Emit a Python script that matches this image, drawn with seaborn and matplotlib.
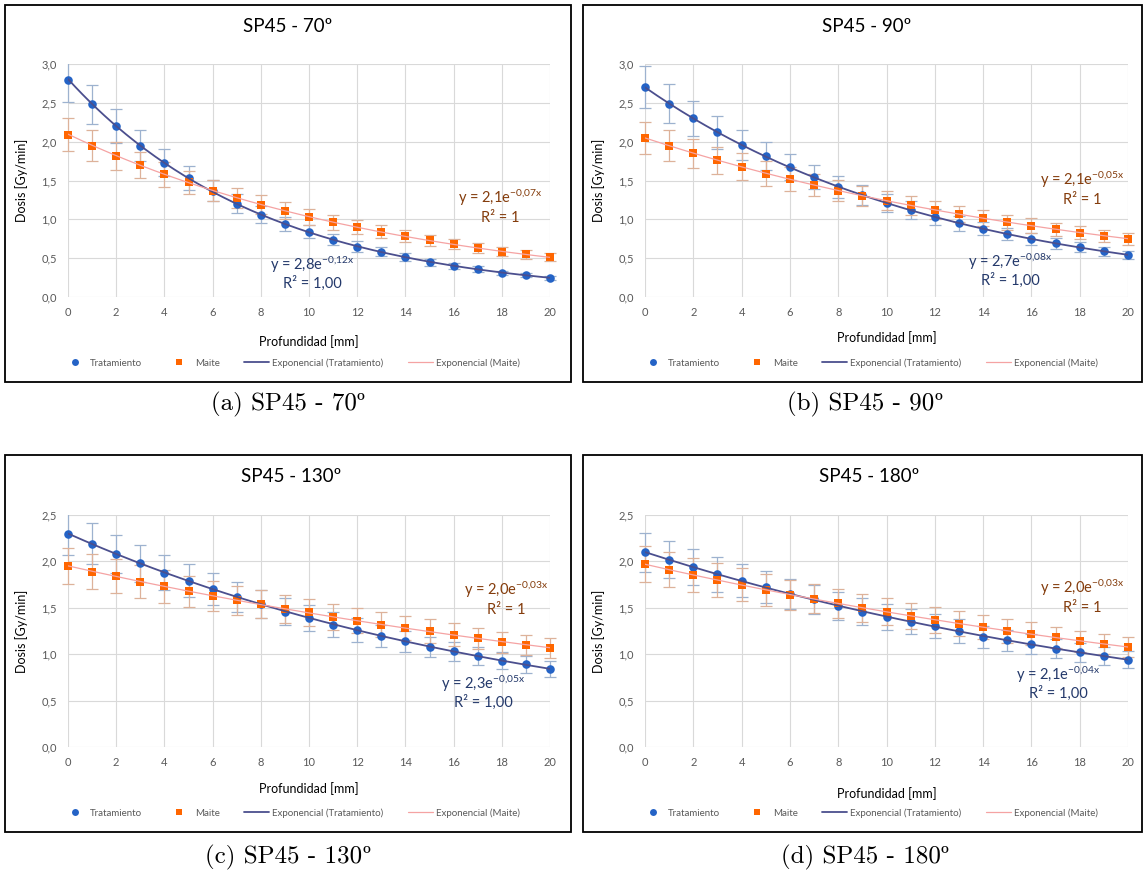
import numpy as np
import matplotlib
matplotlib.use("Agg")
import matplotlib.pyplot as plt
import seaborn as sns
from matplotlib.lines import Line2D
from matplotlib.patches import Rectangle
from matplotlib.text import Annotation
from matplotlib.ticker import FuncFormatter, MultipleLocator

# ---------------- data ----------------
depth_mm = list(range(21))

trat_70 = [2.79, 2.48, 2.20, 1.95, 1.73, 1.53, 1.37, 1.20, 1.06, 0.94, 0.84, 0.74, 0.65,
           0.58, 0.51, 0.45, 0.40, 0.36, 0.31, 0.28, 0.25]
maite_70 = [2.09, 1.95, 1.82, 1.70, 1.58, 1.48, 1.37, 1.28, 1.19, 1.11, 1.03, 0.96, 0.90,
            0.84, 0.78, 0.73, 0.68, 0.63, 0.58, 0.55, 0.51]

trat_90 = [2.70, 2.49, 2.30, 2.12, 1.96, 1.81, 1.67, 1.54, 1.42, 1.31, 1.21, 1.12, 1.03,
           0.95, 0.88, 0.81, 0.75, 0.69, 0.64, 0.59, 0.54]
maite_90 = [2.05, 1.95, 1.85, 1.76, 1.68, 1.59, 1.52, 1.44, 1.37, 1.30, 1.24, 1.18, 1.12,
            1.07, 1.02, 0.96, 0.92, 0.87, 0.83, 0.79, 0.75]

trat_130 = [2.30, 2.19, 2.08, 1.98, 1.88, 1.79, 1.70, 1.62, 1.54, 1.46, 1.39, 1.32, 1.26,
            1.20, 1.14, 1.08, 1.03, 0.98, 0.93, 0.89, 0.84]
maite_130 = [1.95, 1.89, 1.84, 1.78, 1.73, 1.68, 1.63, 1.58, 1.54, 1.49, 1.45, 1.40, 1.36,
             1.32, 1.28, 1.25, 1.21, 1.17, 1.13, 1.10, 1.07]

trat_180 = [2.10, 2.02, 1.94, 1.86, 1.79, 1.72, 1.65, 1.59, 1.52, 1.46, 1.40, 1.35, 1.30,
            1.25, 1.19, 1.15, 1.11, 1.06, 1.02, 0.98, 0.94]
maite_180 = [1.97, 1.91, 1.85, 1.80, 1.75, 1.69, 1.64, 1.60, 1.55, 1.50, 1.46, 1.41, 1.37,
             1.33, 1.29, 1.25, 1.22, 1.18, 1.14, 1.11, 1.08]

error_fraction = 0.10   # percentage error bars (10 %)

titles = ["SP45 - 70º", "SP45 - 90º", "SP45 - 130º", "SP45 - 180º"]
captions = ["(a) SP45 - 70º", "(b) SP45 - 90º", "(c) SP45 - 130º", "(d) SP45 - 180º"]
y_max = [3.0, 3.0, 2.5, 2.5]
eq_trat = [r"y = 2,8e$^{\mathrm{-0{,}12x}}$", r"y = 2,7e$^{\mathrm{-0{,}08x}}$",
           r"y = 2,3e$^{\mathrm{-0{,}05x}}$", r"y = 2,1e$^{\mathrm{-0{,}04x}}$"]
r2_trat = ["R² = 1,00"] * 4
eq_maite = [r"y = 2,1e$^{\mathrm{-0{,}07x}}$", r"y = 2,1e$^{\mathrm{-0{,}05x}}$",
            r"y = 2,0e$^{\mathrm{-0{,}03x}}$", r"y = 2,0e$^{\mathrm{-0{,}03x}}$"]
r2_maite = ["R² = 1"] * 4
legend_labels = ["Tratamiento", "Maite", "Exponencial (Tratamiento)", "Exponencial (Maite)"]
x_label = "Profundidad [mm]"
y_label = "Dosis [Gy/min]"

trat_series = [trat_70, trat_90, trat_130, trat_180]
maite_series = [maite_70, maite_90, maite_130, maite_180]

# ---------------- style ----------------
sns.set_style("white")
FONT = "Lato"
plt.rcParams["font.family"] = [FONT, "DejaVu Sans"]
plt.rcParams["mathtext.fontset"] = "custom"
plt.rcParams["mathtext.rm"] = FONT
plt.rcParams["mathtext.it"] = FONT + ":italic"
plt.rcParams["mathtext.bf"] = FONT + ":bold"

C_TRAT = "#2463C6"
C_MAITE = "#FF6600"
C_TRAT_LINE = "#4B4F8E"
C_MAITE_LINE = "#F5A3A3"
C_TRAT_ERR = "#9DB2CF"
C_MAITE_ERR = "#DDB29A"
C_EQ_TRAT = "#24396B"
C_EQ_MAITE = "#843C0C"
C_GRID = "#D9D9D9"
C_TICK = "#595959"

W, H = 1144, 875
fig = plt.figure(figsize=(W / 100, H / 100), dpi=100)


def fx(px):
    return px / W


def fy(py):
    return 1 - py / H


# layout per panel (pixels)
layout = [
    dict(box=(5, 5, 571, 382), ax=(68, 64, 550, 297), title=(288, 27), cap=(290, 404),
         xlab=342, ylab=22, leg=(291, 363), eqM=(500, 198), eqT=(312, 265)),
    dict(box=(583, 5, 1142, 382), ax=(645, 64, 1128, 297), title=(867, 27), cap=(867, 404),
         xlab=338, ylab=599, leg=(869, 363), eqM=(1082, 180), eqT=(1010, 262)),
    dict(box=(5, 455, 571, 832), ax=(68, 515, 550, 747), title=(291, 477), cap=(290, 857),
         xlab=789, ylab=22, leg=(291, 813), eqM=(506, 590), eqT=(483, 684)),
    dict(box=(583, 455, 1142, 832), ax=(645, 515, 1128, 747), title=(869, 477), cap=(867, 857),
         xlab=794, ylab=599, leg=(869, 813), eqM=(1082, 588), eqT=(1058, 675)),
]

x = np.array(depth_mm, dtype=float)
x_fine = np.linspace(x.min(), x.max(), 200)

for i, L in enumerate(layout):
    bx0, by0, bx1, by1 = L["box"]
    fig.add_artist(Rectangle((fx(bx0), fy(by1)), fx(bx1 - bx0), (by1 - by0) / H,
                             transform=fig.transFigure, fill=False, edgecolor="black",
                             lw=1.3, zorder=10))
    ax0, ay0, ax1, ay1 = L["ax"]
    ax = fig.add_axes([fx(ax0), fy(ay1), fx(ax1 - ax0), (ay1 - ay0) / H])
    t = np.array(trat_series[i])
    m = np.array(maite_series[i])

    clip = Rectangle((-0.05, 0), 1.1, 1, transform=ax.transAxes, visible=False)
    ax.add_patch(clip)

    for yv, col in ((t, C_TRAT_ERR), (m, C_MAITE_ERR)):
        eb = ax.errorbar(x, yv, yerr=yv * error_fraction, fmt="none", ecolor=col,
                         elinewidth=0.9, capsize=4.5, capthick=0.9, zorder=2)
        for art in list(eb[1]) + list(eb[2]):
            art.set_clip_path(clip)

    sns.scatterplot(x=x, y=t, marker="o", s=38, color=C_TRAT, edgecolor=C_TRAT,
                    linewidth=0, ax=ax, zorder=3, clip_on=False)
    sns.scatterplot(x=x, y=m, marker="s", s=36, color=C_MAITE, edgecolor=C_MAITE,
                    linewidth=0, ax=ax, zorder=3, clip_on=False)

    # exponential trend lines fitted to the data
    bt = np.polyfit(x, np.log(t), 1)
    bm = np.polyfit(x, np.log(m), 1)
    sns.lineplot(x=x_fine, y=np.exp(bt[1]) * np.exp(bt[0] * x_fine), color=C_TRAT_LINE,
                 lw=1.3, ax=ax, zorder=4)
    sns.lineplot(x=x_fine, y=np.exp(bm[1]) * np.exp(bm[0] * x_fine), color=C_MAITE_LINE,
                 lw=0.9, ax=ax, zorder=4)

    ax.set_xlim(0, 20)
    ax.set_ylim(0, y_max[i])
    ax.xaxis.set_major_locator(MultipleLocator(2))
    ax.yaxis.set_major_locator(MultipleLocator(0.5))
    ax.yaxis.set_major_formatter(FuncFormatter(lambda v, p: f"{v:.1f}".replace(".", ",")))
    ax.grid(True, color=C_GRID, lw=0.8, zorder=0)
    ax.set_axisbelow(True)
    for s in ax.spines.values():
        s.set_visible(False)
    ax.tick_params(length=0, labelsize=8, labelcolor=C_TICK)
    ax.tick_params(axis="y", pad=8)
    ax.tick_params(axis="x", pad=7)

    ax.set_xlabel(x_label, fontsize=9, color="black")
    ax.xaxis.label.set_va("center")
    ax.xaxis.set_label_coords(0.5, (ay1 - L["xlab"]) / (ay1 - ay0))
    ax.set_ylabel(y_label, fontsize=9, color="black")
    ax.yaxis.label.set_va("center")
    ax.yaxis.set_label_coords((L["ylab"] - ax0) / (ax1 - ax0), 0.5)

    fig.text(fx(L["title"][0]), fy(L["title"][1]), titles[i], fontsize=13.5,
             ha="center", va="center", color="black")

    cap = fig.text(fx(L["cap"][0] - 6), fy(L["cap"][1]), captions[i][:-1], fontsize=18,
                   family="cmr10", ha="center", va="center", color="black")
    fig.add_artist(Annotation(captions[i][-1], xy=(1.0, 0.55), xycoords=cap,
                              ha="left", va="center", fontsize=18,
                              family="Liberation Serif", color="black"))

    # trend equations
    ex, ey = L["eqM"]
    fig.text(fx(ex), fy(ey + 5), eq_maite[i], fontsize=10.5, color=C_EQ_MAITE,
             ha="center", va="baseline")
    fig.text(fx(ex), fy(ey + 24), r2_maite[i], fontsize=10.5, color=C_EQ_MAITE,
             ha="center", va="baseline")
    ex, ey = L["eqT"]
    fig.text(fx(ex), fy(ey + 5), eq_trat[i], fontsize=10.5, color=C_EQ_TRAT,
             ha="center", va="baseline")
    fig.text(fx(ex), fy(ey + 23), r2_trat[i], fontsize=10.5, color=C_EQ_TRAT,
             ha="center", va="baseline")

    handles = [
        Line2D([], [], ls="none", marker="o", ms=5, color=C_TRAT, mew=0),
        Line2D([], [], ls="none", marker="s", ms=5, color=C_MAITE, mew=0),
        Line2D([], [], color=C_TRAT_LINE, lw=1.3),
        Line2D([], [], color=C_MAITE_LINE, lw=0.9),
    ]
    ax.legend(handles, legend_labels, ncol=4, loc="center",
              bbox_to_anchor=(fx(L["leg"][0]), fy(L["leg"][1])),
              bbox_transform=fig.transFigure, frameon=False, fontsize=7,
              labelcolor=C_TICK, handlelength=2.6, handletextpad=0.3,
              columnspacing=2.5, borderaxespad=0, borderpad=0)

fig.savefig("out.png", dpi=100)
